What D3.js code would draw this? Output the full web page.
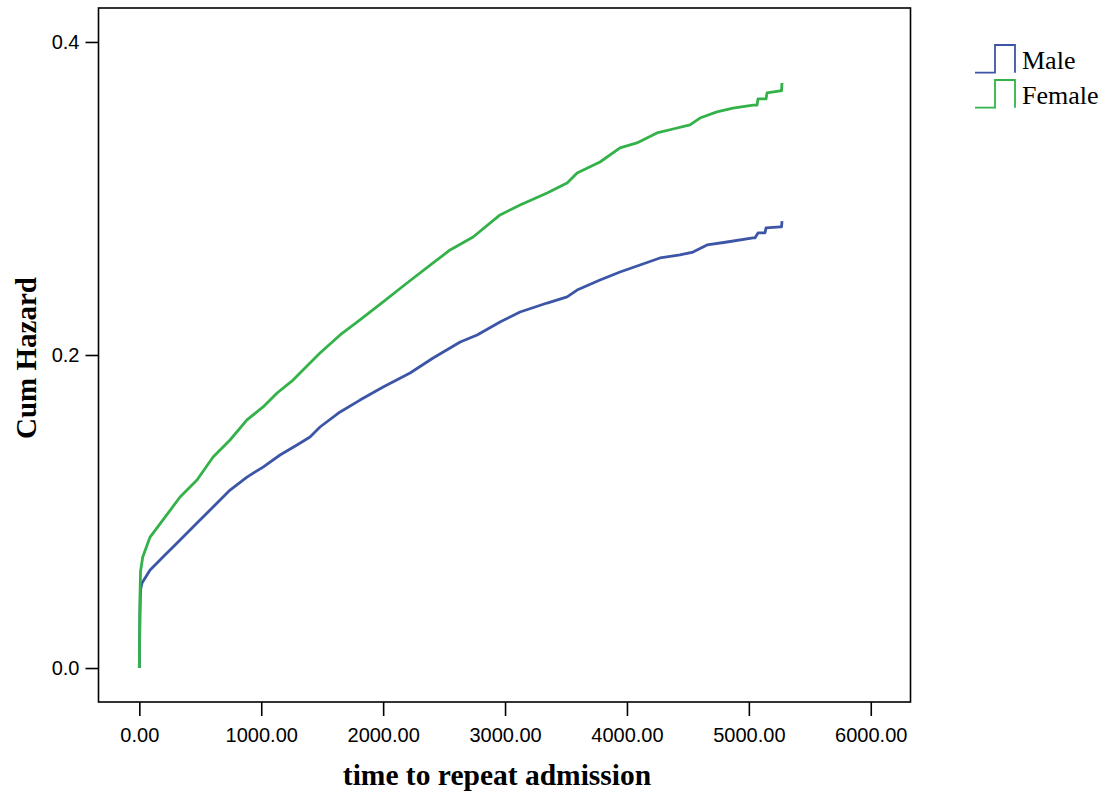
<!DOCTYPE html>
<html><head><meta charset="utf-8">
<script src="https://cdn.jsdelivr.net/npm/d3@7"></script>
<style>body{margin:0;background:#fff}</style>
</head><body>
<svg id="c" width="1112" height="796"></svg>
<script>
const seriesNames = ["Male", "Female"];
const seriesColors = ["#3c55a6", "#33b24a"];
const maleTime = [0,2,5,10,22,88,194,334,473,605,744,883,1015,1154,1293,1400,1482,1647,1810,2000,2221,2410,2632,2771,2959,3123,3345,3509,3591,3779,3943,4107,4271,4435,4542,4657,4821,5034,5050,5075,5132,5141,5256,5268,5272];
const maleHaz  = [0,0.015,0.035,0.050,0.0543,0.0626,0.0709,0.0818,0.0927,0.1029,0.1137,0.1220,0.1284,0.1361,0.1425,0.1476,0.1540,0.1636,0.1712,0.1796,0.1885,0.1981,0.2083,0.2128,0.2211,0.2275,0.2332,0.2371,0.2415,0.2479,0.2530,0.2575,0.2620,0.2639,0.2658,0.2703,0.2722,0.2748,0.2748,0.2780,0.2780,0.2812,0.2818,0.2818,0.2856];
const femaleTime = [0,2,5,10,28,88,194,334,473,605,744,883,1015,1130,1261,1318,1482,1647,1810,2000,2196,2410,2549,2738,2959,3123,3345,3509,3591,3779,3943,4082,4246,4378,4517,4599,4738,4870,5034,5067,5075,5141,5149,5256,5268,5272];
const femaleHaz  = [0,0.02,0.045,0.062,0.0709,0.0837,0.0946,0.1093,0.1201,0.1348,0.1457,0.1585,0.1668,0.1757,0.1840,0.1885,0.2013,0.2128,0.2224,0.2339,0.2460,0.2588,0.2671,0.2754,0.2895,0.2958,0.3035,0.3099,0.3163,0.3233,0.3323,0.3355,0.3419,0.3444,0.3470,0.3514,0.3553,0.3578,0.3597,0.3597,0.3636,0.3636,0.3674,0.3687,0.3687,0.3738];
const xTicks = [0,1000,2000,3000,4000,5000,6000];
const yTicks = [0.0,0.2,0.4];

const svg = d3.select("#c");
const L = 98.5, R = 910.5, T = 8, B = 702;
const x = d3.scaleLinear().domain([-335, 6326]).range([L, R]);
const y = d3.scaleLinear().domain([-0.0217, 0.4217]).range([B, T]);

svg.append("rect").attr("x", L).attr("y", T).attr("width", R - L).attr("height", B - T)
  .attr("fill", "none").attr("stroke", "#000").attr("stroke-width", 1.6);

const xa = svg.append("g").attr("transform", `translate(0,${B})`)
  .call(d3.axisBottom(x).tickValues(xTicks).tickSize(14).tickPadding(12).tickFormat(d3.format(".2f")));
xa.select(".domain").remove();
xa.selectAll("line").attr("stroke", "#000").attr("stroke-width", 1.6);
xa.selectAll("text").attr("font-family", "Liberation Sans, Arial, sans-serif").attr("font-size", 20).attr("fill", "#000");

const ya = svg.append("g").attr("transform", `translate(${L},0)`)
  .call(d3.axisLeft(y).tickValues(yTicks).tickSize(13).tickPadding(6).tickFormat(d3.format(".1f")));
ya.select(".domain").remove();
ya.selectAll("line").attr("stroke", "#000").attr("stroke-width", 1.6);
ya.selectAll("text").attr("font-family", "Liberation Sans, Arial, sans-serif").attr("font-size", 20).attr("fill", "#000");

const line = d3.line().x(d => x(d[0])).y(d => y(d[1])).curve(d3.curveLinear);
const data = [d3.zip(maleTime, maleHaz), d3.zip(femaleTime, femaleHaz)];
data.forEach((d, i) => {
  svg.append("path").datum(d).attr("d", line).attr("fill", "none")
    .attr("stroke", seriesColors[i]).attr("stroke-width", 2.8).attr("stroke-linejoin", "round");
});

svg.append("text").attr("x", 497).attr("y", 785).attr("text-anchor", "middle")
  .attr("font-family", "Liberation Serif, Times New Roman, serif").attr("font-weight", "bold")
  .attr("font-size", 29.5).text("time to repeat admission");
svg.append("text").attr("transform", "translate(36,358) rotate(-90)").attr("text-anchor", "middle")
  .attr("font-family", "Liberation Serif, Times New Roman, serif").attr("font-weight", "bold")
  .attr("font-size", 29).text("Cum Hazard");

const lg = svg.append("g");
seriesNames.forEach((n, i) => {
  const yb = 72.7 + i * 35, yt = 45 + i * 35;
  lg.append("path").attr("d", `M975,${yb}H995V${yt}H1015V${yb}`).attr("fill", "none")
    .attr("stroke", seriesColors[i]).attr("stroke-width", 1.8);
  lg.append("text").attr("x", 1022).attr("y", 69 + i * 35).attr("font-family", "Liberation Serif, Times New Roman, serif")
    .attr("font-size", 26).text(n);
});
</script>
</body></html>
